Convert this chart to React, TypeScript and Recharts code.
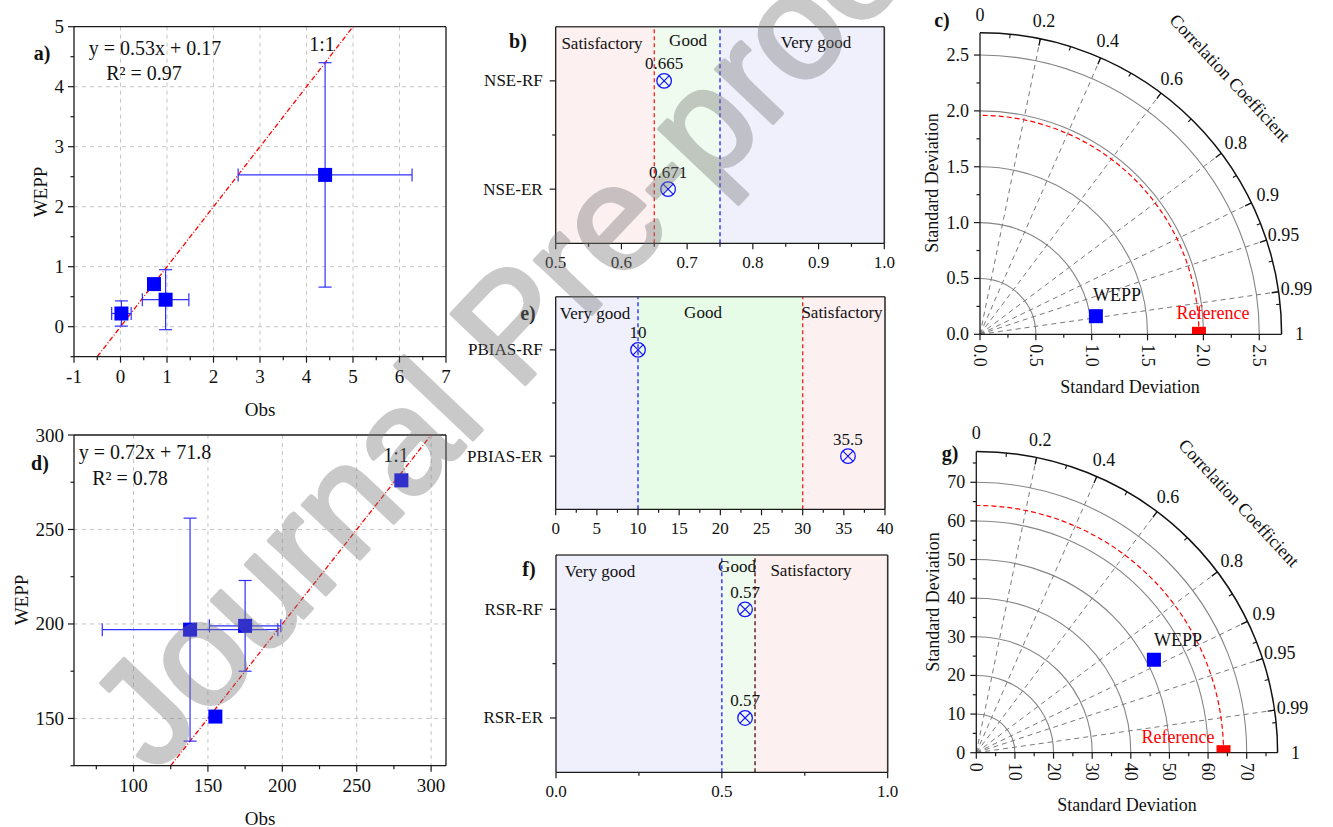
import React from "react";
import {
  ScatterChart,
  Scatter,
  XAxis,
  YAxis,
  CartesianGrid,
  ReferenceLine,
  ReferenceArea,
  ErrorBar,
  Customized,
} from "recharts";

const SERIF = "'Liberation Serif', 'Times New Roman', Times, serif";
const SANS = "'Liberation Sans', Arial, sans-serif";
const AXIS = "#1a1a1a";
const RED = "#ff0000";
const BLUE = "#0000ff";

// a) runoff: WEPP vs observed
const obsA = [0.02, 0.72, 0.97, 4.4];
const weppA = [0.22, 0.71, 0.45, 2.53];
const sdA = [0.21, 0, 0.5, 1.87];
const xTicksA = [-1, 0, 1, 2, 3, 4, 5, 6, 7];
const xMinorA = [-0.5, 0.5, 1.5, 2.5, 3.5, 4.5, 5.5, 6.5];
const yTicksA = [0, 1, 2, 3, 4, 5];
const yMinorA = [-0.5, 0.5, 1.5, 2.5, 3.5, 4.5];
const lineA = [-0.5, 5];

// d) sediment: WEPP vs observed
const obsD = [138, 175, 155, 280];
const weppD = [197, 199, 151, 276];
const sdD = [59, 24, 0, 0];
const xTicksD = [100, 150, 200, 250, 300];
const xMinorD = [75, 125, 175, 225, 275];
const yTicksD = [150, 200, 250, 300];
const yMinorD = [125, 175, 225, 275];
const lineD = [125, 300];

// b) NSE
const nseCats = ["NSE-RF", "NSE-ER"];
const nseVals = [0.665, 0.671];
const nseLimits = [0.5, 0.65, 0.75, 1.0];
const nseZones = ["Satisfactory", "Good", "Very good"];
const nseTicks = [0.5, 0.6, 0.7, 0.8, 0.9, 1.0];
const nseMinor = [0.55, 0.65, 0.75, 0.85, 0.95];

// e) PBIAS
const pbiasCats = ["PBIAS-RF", "PBIAS-ER"];
const pbiasVals = [10, 35.5];
const pbiasLimits = [0, 10, 30, 40];
const pbiasZones = ["Very good", "Good", "Satisfactory"];
const pbiasTicks = [0, 5, 10, 15, 20, 25, 30, 35, 40];
const pbiasMinor = [2.5, 7.5, 12.5, 17.5, 22.5, 27.5, 32.5, 37.5];

// f) RSR
const rsrCats = ["RSR-RF", "RSR-ER"];
const rsrVals = [0.57, 0.57];
const rsrLimits = [0, 0.5, 0.6, 1.0];
const rsrZones = ["Very good", "Good", "Satisfactory"];
const rsrTicks = [0, 0.5, 1.0];
const rsrMinor = [0.25, 0.75];

// c) / g) Taylor diagrams
const stdC = [1.05];
const corrC = [0.988];
const refStdC = 1.96;
const ringsC = [0.5, 1.0, 1.5, 2.0, 2.5];
const sdTicksC = [0, 0.5, 1.0, 1.5, 2.0, 2.5];
const sdMinorC = [0.25, 0.75, 1.25, 1.75, 2.25];

const stdG = [51.9];
const corrG = [0.886];
const refStdG = 64;
const ringsG = [10, 20, 30, 40, 50, 60, 70];
const sdTicksG = [0, 10, 20, 30, 40, 50, 60, 70];
const sdMinorG = [5, 15, 25, 35, 45, 55, 65, 75];

const corrLabels = [0, 0.2, 0.4, 0.6, 0.8, 0.9, 0.95, 0.99, 1];
const corrLines = [0.2, 0.4, 0.6, 0.8, 0.9, 0.95, 0.99];
const corrMinor = [0.1, 0.3, 0.5, 0.7, 0.85, 0.93, 0.97, 0.995];

const isIn = (arr: number[]) => (v: number) => arr.some((m) => Math.abs(m - v) < 1e-9);
const merge = (a: number[], b: number[]) => [...a, ...b].sort((p, q) => p - q);

function bottomTick(isMajor: (v: number) => boolean, fmt: (v: number) => string, size: number, gap: number, rotate = false) {
  return (p: any) => {
    const v = p.payload.value;
    const major = isMajor(v);
    return (
      <g>
        <line x1={p.x} x2={p.x} y1={p.y} y2={p.y + (major ? 6 : 3.5)} stroke={AXIS} strokeWidth={1.2} />
        {major &&
          (rotate ? (
            <text
              x={p.x}
              y={p.y + 10}
              transform={`rotate(90 ${p.x} ${p.y + 10})`}
              textAnchor="start"
              dominantBaseline="central"
              fontFamily={SERIF}
              fontSize={size}
              fill="#111"
            >
              {fmt(v)}
            </text>
          ) : (
            <text x={p.x} y={p.y + gap} textAnchor="middle" dominantBaseline="central" fontFamily={SERIF} fontSize={size} fill="#111">
              {fmt(v)}
            </text>
          ))}
      </g>
    );
  };
}

function leftTick(isMajor: (v: number) => boolean, fmt: (v: number) => string, size: number, gap: number) {
  return (p: any) => {
    const v = p.payload.value;
    const major = isMajor(v);
    return (
      <g>
        <line x1={p.x - (major ? 6 : 3.5)} x2={p.x} y1={p.y} y2={p.y} stroke={AXIS} strokeWidth={1.2} />
        {major && (
          <text x={p.x - gap} y={p.y} textAnchor="end" dominantBaseline="central" fontFamily={SERIF} fontSize={size} fill="#111">
            {fmt(v)}
          </text>
        )}
      </g>
    );
  };
}

const squareShape = (p: any) => <rect x={p.cx - 7} y={p.cy - 7} width={14} height={14} fill={BLUE} />;

const crossCircle = (p: any) => {
  const { cx, cy, payload } = p;
  const d = 5.2;
  return (
    <g>
      <circle cx={cx} cy={cy} r={7.3} fill="none" stroke="#1515ff" strokeWidth={1.3} />
      <line x1={cx - d} y1={cy - d} x2={cx + d} y2={cy + d} stroke="#1515ff" strokeWidth={1.2} />
      <line x1={cx - d} y1={cy + d} x2={cx + d} y2={cy - d} stroke="#1515ff" strokeWidth={1.2} />
      <text x={cx} y={cy - 17} textAnchor="middle" dominantBaseline="central" fontFamily={SERIF} fontSize={17} fill="#111">
        {payload.label}
      </text>
    </g>
  );
};

function Txt({ x, y, size = 17, rot = 0, color = "#111", bold = false, children }: any) {
  return (
    <div
      style={{
        position: "absolute",
        left: x,
        top: y,
        transform: `translate(-50%, -50%) rotate(${rot}deg)`,
        fontFamily: SERIF,
        fontSize: size,
        lineHeight: 1,
        color,
        fontWeight: bold ? 700 : 400,
        whiteSpace: "nowrap",
      }}
    >
      {children}
    </div>
  );
}

function FitPanel(props: any) {
  const { left, top, w, h, mt, mr, yw, xh, obs, wepp, sd, xDomain, yDomain, xTicks, xMinor, yTicks, yMinor, gridX, gridY, line } = props;
  const data = obs.map((o: number, i: number) => ({ x: o, y: wepp[i], e: sd[i] }));
  return (
    <div style={{ position: "absolute", left, top }}>
      <ScatterChart width={w} height={h} margin={{ top: mt, right: mr, bottom: 0, left: 0 }}>
        <CartesianGrid stroke="#c6c6c6" strokeDasharray="4 4" verticalValues={gridX} horizontalValues={gridY} />
        <XAxis
          type="number"
          dataKey="x"
          domain={xDomain}
          allowDataOverflow
          ticks={merge(xTicks, xMinor)}
          interval={0}
          tickSize={0}
          tickMargin={0}
          tickLine={false}
          height={xh}
          axisLine={{ stroke: AXIS, strokeWidth: 1.3 }}
          tick={bottomTick(isIn(xTicks), String, 19, 20)}
        />
        <YAxis
          type="number"
          dataKey="y"
          domain={yDomain}
          allowDataOverflow
          ticks={merge(yTicks, yMinor)}
          interval={0}
          tickSize={0}
          tickMargin={0}
          tickLine={false}
          width={yw}
          axisLine={{ stroke: AXIS, strokeWidth: 1.3 }}
          tick={leftTick(isIn(yTicks), String, 19, 10)}
        />
        <ReferenceLine y={yDomain[1]} stroke={AXIS} strokeWidth={1.3} />
        <ReferenceLine x={xDomain[1]} stroke={AXIS} strokeWidth={1.3} />
        <ReferenceLine
          segment={[
            { x: line[0], y: line[0] },
            { x: line[1], y: line[1] },
          ]}
          stroke={RED}
          strokeWidth={1.3}
          strokeDasharray="5 2 1 2"
        />
        <Scatter data={data} isAnimationActive={false} shape={squareShape}>
          <ErrorBar dataKey="e" direction="x" width={6.5} stroke="#3030ff" strokeWidth={1.2} isAnimationActive={false} />
          <ErrorBar dataKey="e" direction="y" width={6.5} stroke="#3030ff" strokeWidth={1.2} isAnimationActive={false} />
        </Scatter>
      </ScatterChart>
    </div>
  );
}

function RatingPanel(props: any) {
  const { left, top, w, h, mt, mr, yw, xh, cats, vals, limits, fills, lineColors, xTicks, xMinor, fmt } = props;
  const data = cats.map((c: string, i: number) => ({ x: vals[i], y: i + 1, label: String(vals[i]) }));
  const xDomain = [limits[0], limits[limits.length - 1]];
  return (
    <div style={{ position: "absolute", left, top }}>
      <ScatterChart width={w} height={h} margin={{ top: mt, right: mr, bottom: 0, left: 0 }}>
        {fills.map((f: string, i: number) => (
          <ReferenceArea key={i} x1={limits[i]} x2={limits[i + 1]} fill={f} fillOpacity={1} stroke="none" />
        ))}
        {lineColors.map((c: string, i: number) => (
          <ReferenceLine key={i} x={limits[i + 1]} stroke={c} strokeWidth={1.3} strokeDasharray="4 3" />
        ))}
        <XAxis
          type="number"
          dataKey="x"
          domain={xDomain}
          allowDataOverflow
          ticks={merge(xTicks, xMinor)}
          interval={0}
          tickSize={0}
          tickMargin={0}
          tickLine={false}
          height={xh}
          axisLine={{ stroke: AXIS, strokeWidth: 1.3 }}
          tick={bottomTick(isIn(xTicks), fmt, 17, 19)}
        />
        <YAxis
          type="number"
          dataKey="y"
          domain={[0.5, 2.5]}
          reversed
          allowDataOverflow
          ticks={[1, 1.5, 2]}
          interval={0}
          tickSize={0}
          tickMargin={0}
          tickLine={false}
          width={yw}
          axisLine={{ stroke: AXIS, strokeWidth: 1.3 }}
          tick={leftTick((v) => Number.isInteger(v), (v) => cats[v - 1], 17, 13)}
        />
        <ReferenceLine y={0.5} stroke="#444" strokeWidth={1.6} />
        <ReferenceLine x={xDomain[1]} stroke="#333" strokeWidth={1.6} />
        <Scatter data={data} isAnimationActive={false} shape={crossCircle} />
      </ScatterChart>
    </div>
  );
}

function TaylorGrid({ ox, oy, k, rMax, rings, refStd }: any) {
  const R = rMax * k;
  const arc = (r: number) => `M ${ox + r} ${oy} A ${r} ${r} 0 0 0 ${ox} ${oy - r}`;
  const at = (c: number, r: number) => {
    const t = Math.acos(c);
    return [ox + r * Math.cos(t), oy - r * Math.sin(t)];
  };
  return (
    <g>
      {rings.map((r: number) => (
        <path key={r} d={arc(r * k)} fill="none" stroke="#858585" strokeWidth={1.1} />
      ))}
      {corrLines.map((c) => {
        const [x, y] = at(c, R);
        return <line key={c} x1={ox} y1={oy} x2={x} y2={y} stroke="#7a7a7a" strokeWidth={1} strokeDasharray="5 4" />;
      })}
      <path d={arc(refStd * k)} fill="none" stroke={RED} strokeWidth={1.2} strokeDasharray="5 3" />
      <path d={arc(R)} fill="none" stroke="#111" strokeWidth={1.5} />
      {corrLines.map((c) => {
        const [x1, y1] = at(c, R);
        const [x2, y2] = at(c, R - 7);
        return <line key={"t" + c} x1={x1} y1={y1} x2={x2} y2={y2} stroke="#111" strokeWidth={1.3} />;
      })}
      {corrMinor.map((c) => {
        const [x1, y1] = at(c, R);
        const [x2, y2] = at(c, R - 4);
        return <line key={"m" + c} x1={x1} y1={y1} x2={x2} y2={y2} stroke="#111" strokeWidth={1.1} />;
      })}
      {corrLabels.map((c) => {
        const [x, y] = at(c, R + 18);
        return (
          <text key={"l" + c} x={x} y={y} textAnchor="middle" dominantBaseline="central" fontFamily={SERIF} fontSize={18} fill="#111">
            {String(c)}
          </text>
        );
      })}
    </g>
  );
}

function TaylorPanel(props: any) {
  const { left, top, w, h, yw, mt, size, rMax, std, corr, refStd, rings, majors, minors, fmt } = props;
  const k = size / rMax;
  const mr = w - yw - size;
  const xh = h - mt - size;
  const pts = std.map((s: number, i: number) => ({ x: s * corr[i], y: s * Math.sqrt(1 - corr[i] * corr[i]) }));
  const ref = [{ x: refStd, y: 0 }];
  const refShape = (p: any) => <rect x={p.cx - 7} y={p.cy - 7.5} width={14} height={7.5} fill={RED} />;
  return (
    <div style={{ position: "absolute", left, top }}>
      <ScatterChart width={w} height={h} margin={{ top: mt, right: mr, bottom: 0, left: 0 }}>
        <Customized component={<TaylorGrid ox={yw} oy={mt + size} k={k} rMax={rMax} rings={rings} refStd={refStd} />} />
        <XAxis
          type="number"
          dataKey="x"
          domain={[0, rMax]}
          allowDataOverflow
          ticks={merge(majors, minors).filter((v) => v <= rMax)}
          interval={0}
          tickSize={0}
          tickMargin={0}
          tickLine={false}
          height={xh}
          axisLine={{ stroke: AXIS, strokeWidth: 1.3 }}
          tick={bottomTick(isIn(majors), fmt, 18, 20, true)}
        />
        <YAxis
          type="number"
          dataKey="y"
          domain={[0, rMax]}
          allowDataOverflow
          ticks={merge(majors, minors).filter((v) => v <= rMax)}
          interval={0}
          tickSize={0}
          tickMargin={0}
          tickLine={false}
          width={yw}
          axisLine={{ stroke: AXIS, strokeWidth: 1.3 }}
          tick={leftTick(isIn(majors), fmt, 18, 11)}
        />
        <Scatter data={pts} isAnimationActive={false} shape={squareShape} />
        <Scatter data={ref} isAnimationActive={false} shape={refShape} />
      </ScatterChart>
    </div>
  );
}

const PINK = "#fdf0f0";
const GREEN = "#eefbee";
const GREEN2 = "#e6fce6";
const LAV = "#f0f0fd";

export default function App() {
  return (
    <div style={{ position: "absolute", left: 0, top: 0, width: 1333, height: 827, background: "#fff", overflow: "hidden" }}>
      {/* a) */}
      <FitPanel
        left={0} top={0} w={460} h={420} mt={26.7} mr={14} yw={74} xh={63.3}
        obs={obsA} wepp={weppA} sd={sdA}
        xDomain={[-1, 7]} yDomain={[-0.5, 5]}
        xTicks={xTicksA} xMinor={xMinorA} yTicks={yTicksA} yMinor={yMinorA}
        gridX={[0, 1, 2, 3, 4, 5, 6]} gridY={[0, 1, 2, 3, 4]} line={lineA}
      />
      <Txt x={42} y={53} size={20} bold>a)</Txt>
      <Txt x={155} y={48} size={20}>y = 0.53x + 0.17</Txt>
      <Txt x={144} y={73} size={20}>R² = 0.97</Txt>
      <Txt x={322} y={44} size={20}>1:1</Txt>
      <Txt x={40} y={192} size={19} rot={-90}>WEPP</Txt>
      <Txt x={260} y={409} size={19}>Obs</Txt>

      {/* d) */}
      <FitPanel
        left={0} top={420} w={460} h={407} mt={15} mr={14} yw={74} xh={61.3}
        obs={obsD} wepp={weppD} sd={sdD}
        xDomain={[60, 310]} yDomain={[125, 300]}
        xTicks={xTicksD} xMinor={xMinorD} yTicks={yTicksD} yMinor={yMinorD}
        gridX={[100, 150, 200, 250, 300]} gridY={[150, 200, 250]} line={lineD}
      />
      <Txt x={40} y={463} size={20} bold>d)</Txt>
      <Txt x={145} y={452} size={20}>y = 0.72x + 71.8</Txt>
      <Txt x={130} y={478} size={20}>R² = 0.78</Txt>
      <Txt x={396} y={455} size={20}>1:1</Txt>
      <Txt x={21} y={600} size={19} rot={-90}>WEPP</Txt>
      <Txt x={260} y={818} size={19}>Obs</Txt>

      {/* b) */}
      <RatingPanel
        left={460} top={0} w={440} h={280} mt={26.7} mr={15.7} yw={95.7} xh={36.7}
        cats={nseCats} vals={nseVals} limits={nseLimits}
        fills={[PINK, GREEN, LAV]} lineColors={["#ff2020", "#2020ff"]}
        xTicks={nseTicks} xMinor={nseMinor} fmt={(v: number) => v.toFixed(1)}
      />
      <Txt x={518} y={41} size={20} bold>b)</Txt>
      <Txt x={602} y={43}>{nseZones[0]}</Txt>
      <Txt x={688} y={40}>{nseZones[1]}</Txt>
      <Txt x={816} y={42}>{nseZones[2]}</Txt>

      {/* e) */}
      <RatingPanel
        left={460} top={280} w={440} h={270} mt={16.7} mr={15} yw={95.7} xh={40.7}
        cats={pbiasCats} vals={pbiasVals} limits={pbiasLimits}
        fills={[LAV, GREEN2, PINK]} lineColors={["#2020ff", "#ff2020"]}
        xTicks={pbiasTicks} xMinor={pbiasMinor} fmt={(v: number) => String(v)}
      />
      <Txt x={528} y={313} size={20} bold>e)</Txt>
      <Txt x={595} y={313}>{pbiasZones[0]}</Txt>
      <Txt x={703} y={312}>{pbiasZones[1]}</Txt>
      <Txt x={842} y={312}>{pbiasZones[2]}</Txt>

      {/* f) */}
      <RatingPanel
        left={460} top={540} w={440} h={287} mt={15} mr={12.3} yw={96} xh={54.7}
        cats={rsrCats} vals={rsrVals} limits={rsrLimits}
        fills={[LAV, GREEN, PINK]} lineColors={["#2020ff", "#4a0808"]}
        xTicks={rsrTicks} xMinor={rsrMinor} fmt={(v: number) => v.toFixed(1)}
      />
      <Txt x={529} y={569} size={20} bold>f)</Txt>
      <Txt x={600} y={571}>{rsrZones[0]}</Txt>
      <Txt x={737} y={566}>{rsrZones[1]}</Txt>
      <Txt x={811} y={570}>{rsrZones[2]}</Txt>

      {/* c) */}
      <TaylorPanel
        left={900} top={0} w={433} h={420} yw={80} mt={32.7} size={301.6} rMax={2.7}
        std={stdC} corr={corrC} refStd={refStdC} rings={ringsC}
        majors={sdTicksC} minors={sdMinorC} fmt={(v: number) => v.toFixed(1)}
      />
      <Txt x={942} y={20} size={20} bold>c)</Txt>
      <Txt x={932} y={183} size={18} rot={-90}>Standard Deviation</Txt>
      <Txt x={1130} y={387} size={18}>Standard Deviation</Txt>
      <Txt x={1230} y={78} size={18} rot={47}>Correlation Coefficient</Txt>
      <Txt x={1117} y={295} size={18}>WEPP</Txt>
      <Txt x={1213} y={313} size={18} color={RED}>Reference</Txt>

      {/* g) */}
      <TaylorPanel
        left={900} top={420} w={433} h={407} yw={76.3} mt={31.4} size={301.3} rMax={78}
        std={stdG} corr={corrG} refStd={refStdG} rings={ringsG}
        majors={sdTicksG} minors={sdMinorG} fmt={(v: number) => String(v)}
      />
      <Txt x={950} y={453} size={20} bold>g)</Txt>
      <Txt x={933} y={602} size={18} rot={-90}>Standard Deviation</Txt>
      <Txt x={1127} y={805} size={18}>Standard Deviation</Txt>
      <Txt x={1239} y={503} size={18} rot={47}>Correlation Coefficient</Txt>
      <Txt x={1178} y={640} size={18}>WEPP</Txt>
      <Txt x={1178} y={737} size={18} color={RED}>Reference</Txt>

      {/* watermark */}
      <svg width={1333} height={827} style={{ position: "absolute", left: 0, top: 0, pointerEvents: "none" }}>
        <g opacity={0.4}>
          <text
            x={0}
            y={0}
            transform="translate(548 360) rotate(-46.5)"
            textAnchor="middle"
            fontFamily={SANS}
            fontSize={148}
            fill="#7a7a7a"
            stroke="#7a7a7a"
            strokeWidth={4}
            strokeLinejoin="round"
          >
            Journal Pre-proof
          </text>
        </g>
      </svg>
    </div>
  );
}
